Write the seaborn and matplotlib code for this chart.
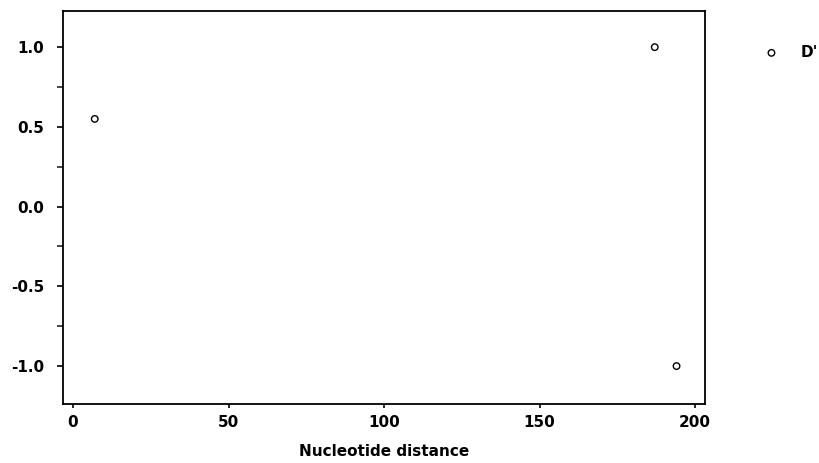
import matplotlib
matplotlib.use("Agg")
import matplotlib.pyplot as plt
import seaborn as sns
import pandas as pd
from matplotlib.ticker import MultipleLocator

distance = [7, 187, 194]
d_prime = [0.55, 1.0, -1.0]
series_label = "D'"
x_label = "Nucleotide distance"

sns.set_style("white")
plt.rcParams['font.family'] = ['DejaVu Sans']
plt.rcParams['font.weight'] = 'bold'

df = pd.DataFrame({"x": distance, "y": d_prime})

fig = plt.figure(figsize=(8.19, 4.63), dpi=100)
ax = fig.add_axes([0.0775, 0.1274, 0.861 - 0.0775, 0.976 - 0.1274])
sns.scatterplot(data=df, x="x", y="y", ax=ax, marker="o", s=22,
                facecolor="none", edgecolor="black", linewidth=1.0,
                label=series_label)

ax.set_xlim(-3.05, 203.2)
ax.set_ylim(-1.238, 1.226)
ax.set_xticks([0, 50, 100, 150, 200])
ax.set_yticks([-1.0, -0.5, 0.0, 0.5, 1.0])
ax.set_yticklabels(["-1.0", "-0.5", "0.0", "0.5", "1.0"])
ax.yaxis.set_minor_locator(MultipleLocator(0.25))
ax.tick_params(axis="both", which="major", direction="out", width=1.2,
               labelsize=11, colors="black")
ax.tick_params(axis="y", which="minor", direction="out", length=4.3, width=1.2, left=True)
ax.tick_params(axis="x", which="major", length=3, pad=5, bottom=True)
ax.tick_params(axis="y", which="major", length=4.3, pad=9.5, left=True)
for lab in ax.get_xticklabels() + ax.get_yticklabels():
    lab.set_fontweight("bold")
for sp in ax.spines.values():
    sp.set_visible(True)
    sp.set_color("black")
    sp.set_linewidth(1.3)
ax.set_xlabel(x_label, fontsize=11, fontweight="bold", labelpad=10, color="black")
ax.set_ylabel("")
leg = ax.legend(loc="center left", bbox_to_anchor=(1.07, 0.895), frameon=False,
                prop={"weight": "bold", "size": 11}, handletextpad=0.9,
                borderaxespad=0)
for t in leg.get_texts():
    t.set_color("black")
fig.savefig("out.png", dpi=100)
